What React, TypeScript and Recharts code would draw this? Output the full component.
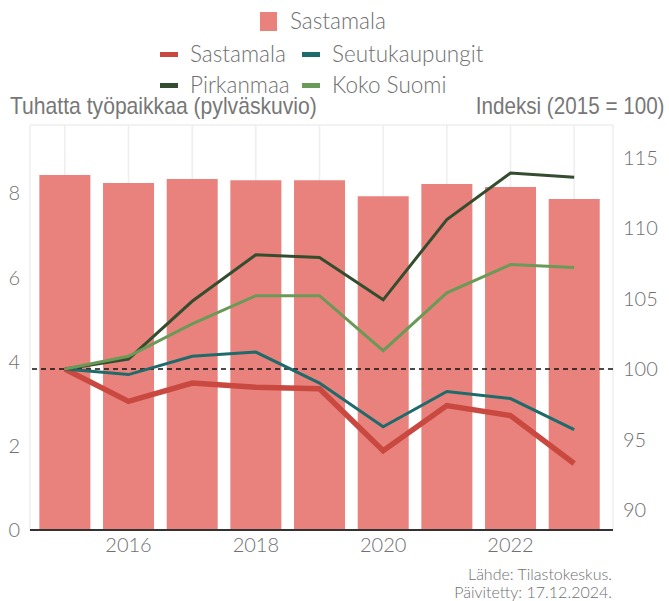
import React from 'react';
import { ComposedChart, Bar, Line, XAxis, YAxis, CartesianGrid, ReferenceLine } from 'recharts';

const years = [2015, 2016, 2017, 2018, 2019, 2020, 2021, 2022, 2023];
const jobsThousands = [8.43, 8.24, 8.34, 8.31, 8.31, 7.93, 8.22, 8.15, 7.86];
const sastamalaIndex = [100, 97.7, 99.0, 98.7, 98.6, 94.2, 97.4, 96.7, 93.3];
const seutukaupungitIndex = [100, 99.6, 100.9, 101.2, 99.0, 95.9, 98.4, 97.9, 95.7];
const pirkanmaaIndex = [100, 100.7, 104.8, 108.1, 107.9, 104.9, 110.6, 113.9, 113.6];
const suomiIndex = [100, 100.9, 103.2, 105.2, 105.2, 101.3, 105.4, 107.4, 107.2];
const leftTicks = [0, 2, 4, 6, 8];
const rightTicks = [90, 95, 100, 105, 110, 115];

const data = years.map((year, i) => ({
  year,
  jobs: jobsThousands[i],
  sastamala: sastamalaIndex[i],
  seutu: seutukaupungitIndex[i],
  pirkanmaa: pirkanmaaIndex[i],
  suomi: suomiIndex[i],
}));

const font = 'Lato, "Noto Sans", sans-serif';
const titleFont = '"Liberation Sans", Arial, sans-serif';
const textGray = '#707070';

const lineItems = [
  { name: 'Sastamala', color: '#c9483f' },
  { name: 'Seutukaupungit', color: '#1d6b6a' },
  { name: 'Pirkanmaa', color: '#344d2e' },
  { name: 'Koko Suomi', color: '#6a9a57' },
];

// legend drawn by hand, recharts' Legend would push the plot down
const ChartLegend = () => (
  <div style={{ position: 'absolute', left: 0, top: 0, width: 669, height: 100, fontFamily: font, fontWeight: 300, fontSize: 22.5, lineHeight: '24px', color: textGray }}>
    <div style={{ position: 'absolute', left: 260, top: 9, display: 'flex', alignItems: 'center' }}>
      <span style={{ display: 'inline-block', width: 17, height: 19, background: '#e9827c', marginRight: 13 }} />
      <span>Sastamala</span>
    </div>
    {lineItems.map((item, i) => (
      <div
        key={item.name}
        style={{
          position: 'absolute',
          left: i % 2 === 0 ? 160 : 302,
          top: 42 + Math.floor(i / 2) * 31,
          display: 'flex',
          alignItems: 'center',
        }}
      >
        <span style={{ display: 'inline-block', width: 18, height: 5, background: item.color, marginRight: 12 }} />
        <span>{item.name}</span>
      </div>
    ))}
  </div>
);

const titleStyle: React.CSSProperties = {
  position: 'absolute',
  top: 94,
  fontFamily: titleFont,
  fontWeight: 400,
  fontSize: 24,
  lineHeight: '24px',
  color: '#777',
  whiteSpace: 'nowrap',
};

const App: React.FC = () => {
  return (
    <div style={{ position: 'absolute', left: 0, top: 0, width: 669, height: 601 }}>
      <ComposedChart width={669} height={601} data={data} margin={{ top: 125, right: 0, bottom: 41, left: 0 }}>
        <CartesianGrid stroke="#eeeeee" strokeWidth={1.5} />
        <XAxis
          dataKey="year"
          interval={0}
          padding={{ left: 3, right: 7 }}
          height={30}
          tickLine={false}
          axisLine={{ stroke: '#333', strokeWidth: 2 }}
          tick={{ fill: textGray, fontSize: 20, fontFamily: font, fontWeight: 300 }}
          tickFormatter={(v: number) => (v % 2 === 0 ? String(v) : '')}
        />
        <YAxis
          yAxisId="left"
          orientation="left"
          width={30}
          domain={[0, 9.62]}
          ticks={leftTicks}
          tickSize={8}
          tickLine={false}
          axisLine={false}
          tick={{ fill: textGray, fontSize: 20, fontFamily: font, fontWeight: 300 }}
        />
        <YAxis
          yAxisId="right"
          orientation="right"
          width={56}
          domain={[88.58, 117.3]}
          ticks={rightTicks}
          tickSize={8}
          tickLine={false}
          axisLine={false}
          tick={{ fill: textGray, fontSize: 20, fontFamily: font, fontWeight: 300, textAnchor: 'start' }}
        />
        <Bar yAxisId="left" dataKey="jobs" fill="#e9827c" barCategoryGap={3} isAnimationActive={false} />
        <ReferenceLine yAxisId="right" y={100} stroke="#111" strokeWidth={1.5} strokeDasharray="5 4" />
        <Line yAxisId="right" dataKey="sastamala" stroke="#c9483f" strokeWidth={5.5} dot={false} isAnimationActive={false} />
        <Line yAxisId="right" dataKey="seutu" stroke="#1d6b6a" strokeWidth={3} dot={false} isAnimationActive={false} />
        <Line yAxisId="right" dataKey="pirkanmaa" stroke="#344d2e" strokeWidth={3} dot={false} isAnimationActive={false} />
        <Line yAxisId="right" dataKey="suomi" stroke="#6a9a57" strokeWidth={3} dot={false} isAnimationActive={false} />
      </ComposedChart>
      <ChartLegend />
      <div style={{ ...titleStyle, left: 10, transform: 'scaleX(0.88)', transformOrigin: 'left center' }}>
        Tuhatta työpaikkaa (pylväskuvio)
      </div>
      <div style={{ ...titleStyle, right: 5, transform: 'scaleX(0.86)', transformOrigin: 'right center' }}>
        Indeksi (2015 = 100)
      </div>
      <div style={{ position: 'absolute', right: 57, top: 565, fontFamily: font, fontWeight: 300, fontSize: 16, lineHeight: '18px', color: textGray, textAlign: 'right' }}>
        Lähde: Tilastokeskus.
        <br />
        Päivitetty: 17.12.2024.
      </div>
    </div>
  );
};

export default App;
